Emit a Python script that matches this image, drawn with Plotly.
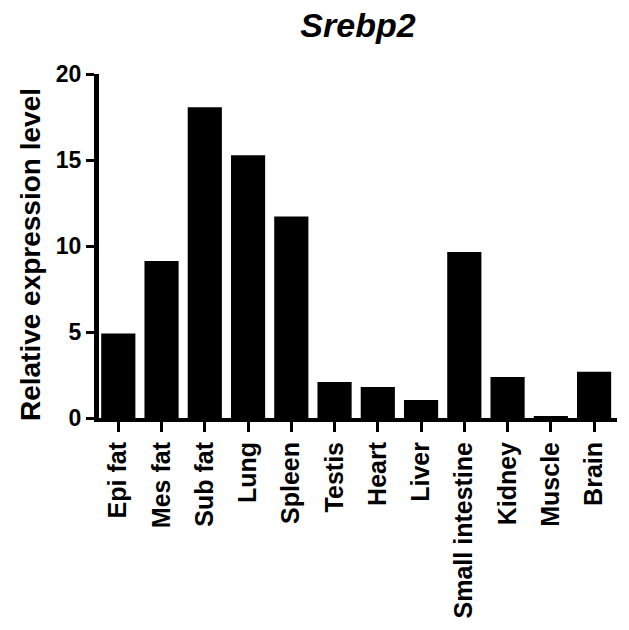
import plotly.graph_objects as go

categories = ["Epi fat", "Mes fat", "Sub fat", "Lung", "Spleen", "Testis", "Heart",
              "Liver", "Small intestine", "Kidney", "Muscle", "Brain"]
values = [4.92, 9.13, 18.07, 15.28, 11.71, 2.09, 1.80, 1.05, 9.65, 2.38, 0.08, 2.69]
y_ticks = [0, 5, 10, 15, 20]
title_text = "Srebp2"
y_title = "Relative expression level"

FONT = "Liberation Sans, Arial, sans-serif"

fig = go.Figure(go.Bar(
    x=list(range(len(categories))),
    y=values,
    marker=dict(color="black", line=dict(width=0)),
    width=0.79,
))

fig.update_layout(
    width=629, height=630,
    margin=dict(l=99, r=12, t=74, b=210),
    paper_bgcolor="white", plot_bgcolor="white",
    showlegend=False,
    font=dict(family=FONT, color="black"),
    title=dict(
        text=title_text,
        font=dict(family=FONT, size=34, color="black", style="italic", weight="bold"),
        x=0.5, xref="paper", xanchor="center",
        y=0.04, yref="container", yanchor="middle",
    ),
    annotations=[dict(
        text=y_title, textangle=-90, showarrow=False,
        xref="paper", yref="paper", x=-0.131, y=0.474,
        xanchor="center", yanchor="middle",
        font=dict(family=FONT, size=28, color="black", weight="bold"),
    )],
)
fig.update_layout(title_y=0.96)

fig.update_xaxes(
    range=[-0.446, 11.53],
    tickmode="array",
    tickvals=list(range(len(categories))),
    ticktext=categories,
    tickangle=-90,
    tickfont=dict(family=FONT, size=25, color="black", weight="bold"),
    showline=True, linecolor="black", linewidth=4,
    ticks="outside", ticklen=10, tickwidth=3, tickcolor="black",
    showgrid=False, zeroline=False,
)

fig.update_yaxes(
    range=[0, 20],
    tickmode="array",
    tickvals=y_ticks,
    ticktext=[str(v) for v in y_ticks],
    tickfont=dict(family=FONT, size=23, color="black", weight="bold"),
    showline=True, linecolor="black", linewidth=5,
    ticks="outside", ticklen=8, tickwidth=3, tickcolor="black",
    showgrid=False, zeroline=False,
)

fig.write_html("out.html")
